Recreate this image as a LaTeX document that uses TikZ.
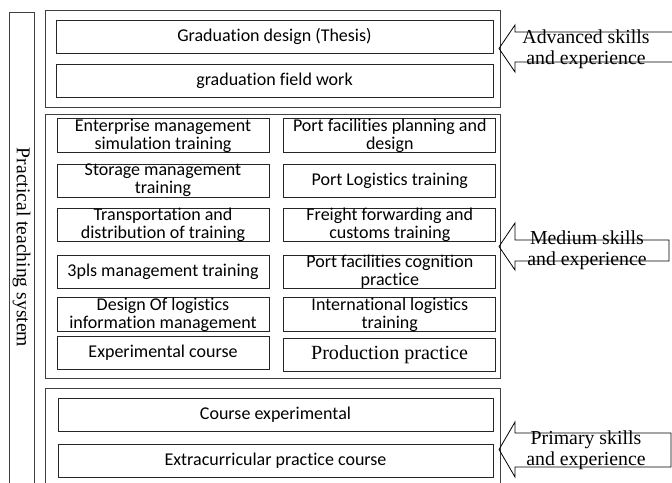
\documentclass[tikz,border=0pt]{standalone}
\usepackage{fontspec}
\setmainfont{Liberation Serif}
\newfontfamily\calibri[Ligatures=CommonOff]{Carlito}
\usepackage{tikz}
\usetikzlibrary{positioning}

\begin{document}
\begin{tikzpicture}[
    x=1pt, y=-1pt,
    group/.style={draw=black!75, line width=0.8pt},
    box/.style={draw=black!85, line width=0.8pt, align=center, inner sep=0pt,
      minimum height=33pt, font=\calibri\fontsize{18}{18}\selectfont},
    cell/.style={box, minimum width=212pt},
    wide/.style={box, minimum width=437pt},
    level/.style={align=center, font=\fontsize{19.8}{21}\selectfont},
    blockarrow/.style={draw=black, line width=0.8pt}
  ]
    \path[use as bounding box, clip] (0,0) rectangle (672,482);

    % frames
    \draw[group] (9,12) rectangle (34,500);
    \node[rotate=-90, font=\fontsize{19.6}{19.6}\selectfont] (system) at (21.5,247.5) {Practical teaching system};
    \draw[group] (45,10) rectangle (500,107);
    \draw[group] (45,114) rectangle (500,378);
    \draw[group] (45,388) rectangle (500,500);

    % advanced
    \node[wide] (thesis) at (274.5,36.5) {Graduation design (Thesis)};
    \node[wide] (fieldwork) at (274.5,80.5) {graduation field work};

    % medium
    \node[cell] (enterprise) at (163,135.5) {Enterprise management\\simulation training};
    \node[cell] (storage) at (163,180.5) {Storage management\\training};
    \node[cell] (transport) at (163,225) {Transportation and\\distribution of training};
    \node[cell] (threepl) at (163,272) {3pls management training};
    \node[cell] (infodesign) at (163,314.5) {Design Of logistics\\information management};
    \node[cell] (experimental) at (163,353) {Experimental course};
    \node[cell, right=14pt of enterprise] (planning) {Port facilities planning and\\design};
    \node[cell, right=14pt of storage] (portlog) {Port Logistics training};
    \node[cell, right=14pt of transport] (freight) {Freight forwarding and\\customs training};
    \node[cell, right=14pt of threepl] (cognition) {Port facilities cognition\\practice};
    \node[cell, right=14pt of infodesign] (international) {International logistics\\training};
    \node[cell, font=\fontsize{20.1}{20}\selectfont] (production) at (389.5,354.5) {Production practice};

    % primary
    \node[wide, minimum width=435pt] (courseexp) at (275.5,414.5) {Course experimental};
    \node[wide, minimum width=435pt] (extra) at (275.5,460.5) {Extracurricular practice course};

    % skill arrows
    \draw[blockarrow] (690,32) -- (515,32) -- (515,25) -- (499,48.5) -- (515,72) -- (515,62) -- (690,62);
    \node[level] (advanced) at (586,49.5) {Advanced skills\\and experience};
    \draw[blockarrow] (669,240) -- (515,240) -- (515,223) -- (499,246.5) -- (515,270) -- (515,261) -- (669,261) -- cycle;
    \node[level] (medium) at (587,250) {Medium skills\\and experience};
    \draw[blockarrow] (671,433) -- (515,433) -- (515,422) -- (499,449.5) -- (515,477) -- (515,467) -- (671,467) -- cycle;
    \node[level] (primary) at (586,450) {Primary skills\\and experience};
  \end{tikzpicture}
\end{document}
